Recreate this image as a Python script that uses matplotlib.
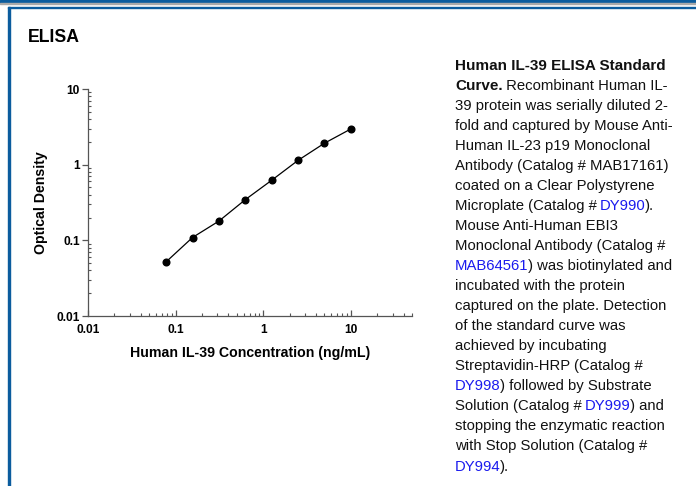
import numpy as np
import matplotlib.pyplot as plt
from matplotlib.patches import Rectangle

plt.rcParams['font.family'] = ['Liberation Sans', 'DejaVu Sans']

# standard curve: 2-fold serial dilution
conc = [0.078, 0.156, 0.313, 0.625, 1.25, 2.5, 5, 10]
od = [0.052, 0.109, 0.180, 0.345, 0.622, 1.14, 1.92, 2.96]

x_ticks = [0.01, 0.1, 1, 10]
x_ticklabels = ['0.01', '0.1', '1', '10']
y_ticks = [0.01, 0.1, 1, 10]
y_ticklabels = ['0.01', '0.1', '1', '10']

# caption lines, each a list of (text, style) pieces
caption = [
    [('Human IL-39 ELISA Standard', 'b')],
    [('Curve.', 'b'), (' Recombinant Human IL-', 'n')],
    [('39 protein was serially diluted 2-', 'n')],
    [('fold and captured by Mouse Anti-', 'n')],
    [('Human IL-23 p19 Monoclonal', 'n')],
    [('Antibody (Catalog # MAB17161)', 'n')],
    [('coated on a Clear Polystyrene', 'n')],
    [('Microplate (Catalog # ', 'n'), ('DY990', 'l'), (').', 'n')],
    [('Mouse Anti-Human EBI3', 'n')],
    [('Monoclonal Antibody (Catalog #', 'n')],
    [('MAB64561', 'l'), (') was biotinylated and', 'n')],
    [('incubated with the protein', 'n')],
    [('captured on the plate. Detection', 'n')],
    [('of the standard curve was', 'n')],
    [('achieved by incubating', 'n')],
    [('Streptavidin-HRP (Catalog #', 'n')],
    [('DY998', 'l'), (') followed by Substrate', 'n')],
    [('Solution (Catalog # ', 'n'), ('DY999', 'l'), (') and', 'n')],
    [('stopping the enzymatic reaction', 'n')],
    [('with Stop Solution (Catalog #', 'n')],
    [('DY994', 'l'), (').', 'n')],
]

W, H = 696, 486
fig = plt.figure(figsize=(W / 100, H / 100), dpi=100)

# frame decoration
blue = '#0b5c9e'
fig.patches.append(Rectangle((0, 1 - 3 / H), 1, 3 / H, transform=fig.transFigure,
                             color=blue, zorder=0))
fig.patches.append(Rectangle((0, 1 - 4.5 / H), 1, 1.5 / H, transform=fig.transFigure,
                             color='#a9a9a9', zorder=0))
fig.patches.append(Rectangle((8 / W, 1 - 8.5 / H), 1, 1.8 / H, transform=fig.transFigure,
                             color=blue, zorder=0))
fig.patches.append(Rectangle((8 / W, 0), 1.8 / W, 1 - 7 / H, transform=fig.transFigure,
                             color=blue, zorder=0))

fig.text(28 / W, 1 - 37 / H, 'ELISA', fontsize=12.7, fontweight='bold', va='center', ha='left')

ax = fig.add_axes([88 / W, 1 - 316 / H, (412 - 88) / W, (316 - 89) / H])
ax.plot(conc, od, color='black', lw=0.9, marker='o', ms=4.8, mfc='black', mec='black')
ax.set_xscale('log')
ax.set_yscale('log')
ax.set_xlim(0.01, 50)
ax.set_ylim(0.01, 10)
ax.set_xticks(x_ticks)
ax.set_xticklabels(x_ticklabels)
ax.set_yticks(y_ticks)
ax.set_yticklabels(y_ticklabels)
for s in ['top', 'right']:
    ax.spines[s].set_visible(False)
for s in ['left', 'bottom']:
    ax.spines[s].set_color('#555555')
    ax.spines[s].set_linewidth(0.9)
ax.tick_params(axis='both', which='major', labelsize=8.6, colors='#555555', labelcolor='black',
               width=0.9, length=4)
ax.tick_params(axis='y', which='major', direction='out', pad=2)
ax.tick_params(axis='x', which='major', direction='in', pad=6)
ax.tick_params(axis='both', which='minor', direction='in', length=2.5, width=0.8, colors='#555555')
for lab in ax.get_xticklabels() + ax.get_yticklabels():
    lab.set_fontweight('bold')
ax.set_xlabel('Human IL-39 Concentration (ng/mL)', fontsize=10.2, fontweight='bold', labelpad=7)
ax.set_ylabel('Optical Density', fontsize=10.2, fontweight='bold', labelpad=6)

# caption text on the right
link = '#1a1aee'
x0 = 455 / W
y_first = 65.5
step = 20.05
for i, line in enumerate(caption):
    y = 1 - (y_first + i * step) / H
    prev = None
    for text, style in line:
        kw = dict(fontsize=11.0 if style == 'b' else 10.7, va='center', ha='left',
                  fontweight='bold' if style == 'b' else 'normal',
                  color=link if style == 'l' else '#111111')
        if prev is None:
            prev = fig.text(x0, y, text, **kw)
        else:
            prev = ax.annotate(text, xy=(1, 0.5), xycoords=prev, xytext=(-0.6, 0),
                               textcoords='offset points', annotation_clip=False, **kw)

fig.savefig('out.png', dpi=100)
